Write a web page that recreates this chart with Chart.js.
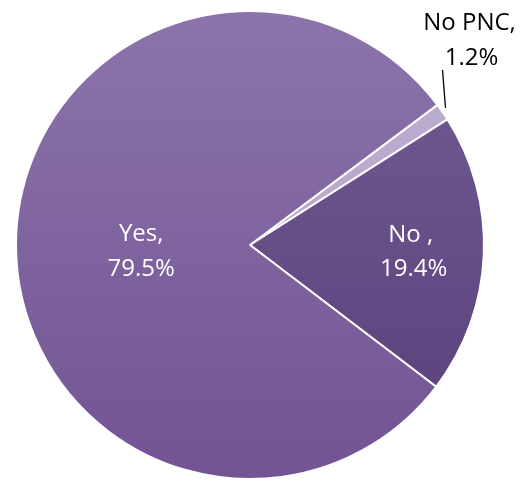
<!DOCTYPE html>
<html>
<head>
<meta charset="utf-8">
<script src="https://cdn.jsdelivr.net/npm/chart.js@4.4.0/dist/chart.umd.min.js"></script>
<style>
  html, body { margin: 0; padding: 0; background: #fff; }
  #wrap { width: 521px; height: 483px; }
</style>
</head>
<body>
<div id="wrap"><canvas id="pie"></canvas></div>
<script>
// data
const labels = ['No PNC', 'No ', 'Yes'];
const values = [1.2, 19.4, 79.5];
const valueText = ['1.2%', '19.4%', '79.5%'];

// gradient stops per slice (top colour, bottom colour)
const sliceColors = [
  ['#bcaed0', '#b3a3c9'],
  ['#725c93', '#5a3f7b'],
  ['#8c74aa', '#725394']
];

function sliceFill(ctx) {
  const chart = ctx.chart;
  const area = chart.chartArea;
  if (!area) return sliceColors[ctx.dataIndex][0];
  const g = chart.ctx.createLinearGradient(0, area.top, 0, area.bottom);
  g.addColorStop(0, sliceColors[ctx.dataIndex][0]);
  g.addColorStop(1, sliceColors[ctx.dataIndex][1]);
  return g;
}

// labels: inside ones in white, the tiny slice outside with a leader line
const labelPlugin = {
  id: 'sliceLabels',
  afterDatasetsDraw(chart) {
    const c = chart.ctx;
    const meta = chart.getDatasetMeta(0);
    c.save();
    c.font = '24px "Open Sans", "Liberation Sans", sans-serif';
    c.textAlign = 'center';
    c.textBaseline = 'middle';
    meta.data.forEach((arc, i) => {
      const mid = (arc.startAngle + arc.endAngle) / 2;
      const r = arc.outerRadius;
      if (i === 0) {
        // outside label
        const ax = arc.x + Math.cos(mid) * r;
        const ay = arc.y + Math.sin(mid) * r;
        c.strokeStyle = '#000';
        c.lineWidth = 1.3;
        c.beginPath();
        c.moveTo(ax + 3, ay - 4);
        c.lineTo(ax + 0, ay - 42);
        c.stroke();
        c.fillStyle = '#000';
        c.fillText(labels[i].trim() + ',', ax + 27, ay - 89);
        c.fillText(valueText[i], ax + 29, ay - 54);
        return;
      }
      const f = i === 1 ? 0.7 : 0.465;
      const x = arc.x + Math.cos(mid) * r * f;
      const y = arc.y + Math.sin(mid) * r * f;
      c.fillStyle = '#fff';
      if (i === 1) {
        c.fillText(labels[i] + ',', x - 3, y - 17);
        c.fillText(valueText[i], x, y + 17);
      } else {
        c.fillText(labels[i] + ',', x, y - 10);
        c.fillText(valueText[i], x, y + 25);
      }
    });
    c.restore();
  }
};

new Chart(document.getElementById('pie'), {
  type: 'pie',
  data: {
    labels: labels,
    datasets: [{
      data: values,
      backgroundColor: sliceFill,
      borderColor: '#ffffff',
      borderWidth: 2
    }]
  },
  options: {
    responsive: true,
    maintainAspectRatio: false,
    animation: false,
    rotation: 53.2,
    layout: { padding: { left: 15, right: 36, top: 10, bottom: 3 } },
    plugins: {
      legend: { display: false },
      tooltip: { enabled: false }
    }
  },
  plugins: [labelPlugin]
});
</script>
</body>
</html>
